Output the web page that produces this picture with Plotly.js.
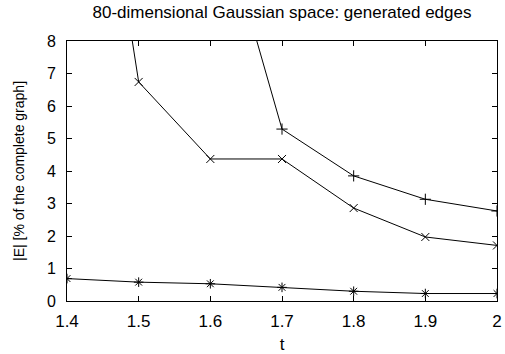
<!DOCTYPE html>
<html>
<head>
<meta charset="utf-8">
<script src="https://cdn.plot.ly/plotly-3.0.1.min.js"></script>
<style>
  html, body { margin: 0; padding: 0; background: #fff; }
  #plot { width: 505px; height: 354px; }
</style>
</head>
<body>
<div id="plot"></div>
<script>
// Threshold t values
const tCross = [1.4, 1.5, 1.6, 1.7, 1.8, 1.9, 2.0];
const edgesCross = [20.9, 6.74, 4.37, 4.37, 2.86, 1.97, 1.71];

const tPlus = [1.6, 1.7, 1.8, 1.9, 2.0];
const edgesPlus = [13.0, 5.29, 3.85, 3.13, 2.77];

const tStar = [1.4, 1.5, 1.6, 1.7, 1.8, 1.9, 2.0];
const edgesStar = [0.69, 0.58, 0.53, 0.42, 0.30, 0.23, 0.23];

const xTicks = [1.4, 1.5, 1.6, 1.7, 1.8, 1.9, 2];
const xTickText = ['1.4', '1.5', '1.6', '1.7', '1.8', '1.9', '2'];
const yTicks = [0, 1, 2, 3, 4, 5, 6, 7, 8];

function series(x, y, symbol) {
  return {
    x: x, y: y, type: 'scatter', mode: 'lines+markers',
    line: { color: '#000', width: 1 },
    marker: { symbol: symbol, size: 8, color: '#000', line: { color: '#000', width: 1 } },
    cliponaxis: true, showlegend: false
  };
}

const data = [
  series(tPlus, edgesPlus, 'cross-thin'),
  series(tCross, edgesCross, 'x-thin'),
  series(tStar, edgesStar, 'asterisk')
];

const family = 'Liberation Sans, Arial, sans-serif';
const font = (size) => ({ family: family, size: size, color: '#000' });

const axisBase = {
  showline: true, linecolor: '#000', linewidth: 1, mirror: 'ticks',
  ticks: 'inside', ticklen: 5, tickcolor: '#000', tickwidth: 1,
  showgrid: false, zeroline: false
};

const layout = {
  width: 505, height: 354,
  margin: { l: 67, r: 8, t: 41, b: 53 },
  paper_bgcolor: '#fff', plot_bgcolor: '#fff',
  font: font(16),
  title: {
    text: '80-dimensional Gaussian space: generated edges', font: font(17),
    xref: 'paper', x: 0.5, xanchor: 'center',
    yref: 'container', y: 0.965, yanchor: 'middle'
  },
  xaxis: Object.assign({}, axisBase, {
    range: [1.4, 2.0], tickvals: xTicks, ticktext: xTickText,
    tickfont: font(17), ticklabelstandoff: 5,
    title: { text: 't', font: font(17), standoff: 7 }
  }),
  yaxis: Object.assign({}, axisBase, {
    range: [0, 8], tickvals: yTicks,
    tickfont: font(16), ticklabelstandoff: 7,
    title: { text: '|E| [% of the complete graph]', font: font(14), standoff: 18 }
  })
};

Plotly.newPlot('plot', data, layout, { staticPlot: true, displayModeBar: false });
</script>
</body>
</html>
